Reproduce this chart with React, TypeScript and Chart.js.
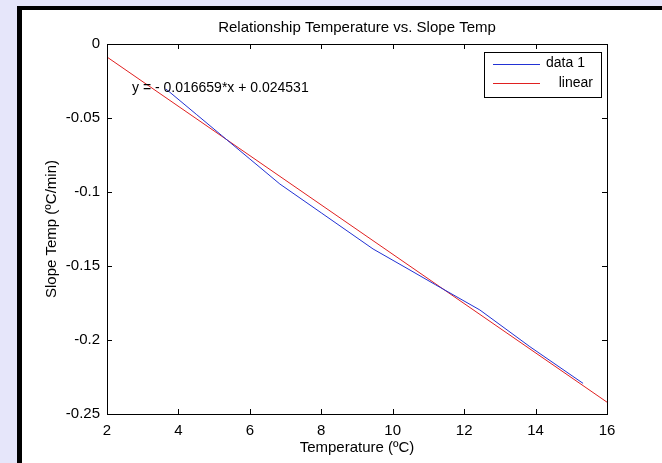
import React, { useEffect, useRef } from "react";
import { Chart, registerables } from "chart.js";

Chart.register(...registerables);

// ---- data ----
const dataTempX = [3.65, 4.5, 5.2, 6.0, 6.84, 8.0, 9.45, 10.43, 11.2, 12.44, 13.84, 15.33];
const dataSlopeY = [-0.0304, -0.0475, -0.0616, -0.0777, -0.0946, -0.1141, -0.1385, -0.152, -0.1627, -0.1797, -0.2045, -0.2293];
const fitTempX = [2, 16];
const fitSlopeY = [-0.0088, -0.242];
const seriesLabels = ["data 1", "   linear"];
const xTicksRange = [2, 16, 2];
const yTicksRange = [-0.25, 0, 0.05];
const titleText = "Relationship Temperature vs. Slope Temp";
const xTitle = "Temperature (ºC)";
const yTitle = "Slope Temp (ºC/min)";
const annotationText = "y = - 0.016659*x + 0.024531";
const annotationAt = [2.7, -0.0297];

const FONT = "'Liberation Sans', Arial, Helvetica, sans-serif";

const matlabPlugin = {
  id: "matlabLook",
  afterLayout(chart: any) {
    // center the title over the axes box, as MATLAB does
    const tb = chart.titleBlock;
    if (tb) {
      tb.left = chart.chartArea.left;
      tb.right = chart.chartArea.right;
    }
  },
  beforeDraw(chart: any) {
    const { ctx, width, height } = chart;
    ctx.save();
    ctx.fillStyle = "#e6e6fa";
    ctx.fillRect(0, 0, width, height);
    ctx.fillStyle = "#ffffff";
    ctx.fillRect(22, 10, width - 22, height - 10);
    ctx.fillStyle = "#000000";
    ctx.fillRect(17, 6, 5, height - 6);
    ctx.fillRect(17, 6, width - 17, 4);
    ctx.restore();
  },
  afterDatasetsDraw(chart: any) {
    const { ctx, chartArea: a, scales } = chart;
    const xs = scales.x;
    const ys = scales.y;
    ctx.save();
    // box
    ctx.strokeStyle = "#000";
    ctx.lineWidth = 1;
    ctx.strokeRect(Math.round(a.left) + 0.5, Math.round(a.top) + 0.5, Math.round(a.right - a.left), Math.round(a.bottom - a.top));
    // inward ticks
    const tl = 5;
    ctx.beginPath();
    xs.ticks.forEach((t: any) => {
      const px = Math.round(xs.getPixelForValue(t.value)) + 0.5;
      ctx.moveTo(px, a.bottom);
      ctx.lineTo(px, a.bottom - tl);
      ctx.moveTo(px, a.top);
      ctx.lineTo(px, a.top + tl);
    });
    ys.ticks.forEach((t: any) => {
      const py = Math.round(ys.getPixelForValue(t.value)) + 0.5;
      ctx.moveTo(a.left, py);
      ctx.lineTo(a.left + tl, py);
      ctx.moveTo(a.right, py);
      ctx.lineTo(a.right - tl, py);
    });
    ctx.stroke();

    // fit equation text
    ctx.fillStyle = "#000";
    ctx.font = `14px ${FONT}`;
    ctx.textAlign = "left";
    ctx.textBaseline = "middle";
    ctx.fillText(annotationText, xs.getPixelForValue(annotationAt[0]), ys.getPixelForValue(annotationAt[1]));

    // legend box
    const lw = 117;
    const lh = 45;
    const lx = Math.round(a.right) - 6 - lw;
    const ly = Math.round(a.top) + 8;
    ctx.fillStyle = "#fff";
    ctx.fillRect(lx, ly, lw, lh);
    ctx.strokeStyle = "#000";
    ctx.strokeRect(lx + 0.5, ly + 0.5, lw, lh);
    const ds = chart.data.datasets;
    ds.forEach((d: any, i: number) => {
      const cy = ly + 11.5 + i * 19.5;
      ctx.strokeStyle = d.borderColor;
      ctx.lineWidth = 1;
      ctx.beginPath();
      ctx.moveTo(lx + 9, Math.round(cy) + 0.5);
      ctx.lineTo(lx + 56, Math.round(cy) + 0.5);
      ctx.stroke();
      ctx.fillStyle = "#000";
      ctx.font = `14px ${FONT}`;
      ctx.textBaseline = "middle";
      if (i === 0) {
        ctx.textAlign = "left";
        ctx.fillText(d.label.trim(), lx + 62, cy);
      } else {
        ctx.textAlign = "right";
        ctx.fillText(d.label.trim(), lx + lw - 8, cy);
      }
    });
    ctx.restore();
  },
};

export default function App() {
  const ref = useRef<HTMLCanvasElement | null>(null);

  useEffect(() => {
    if (!ref.current) return;
    const chart = new Chart(ref.current, {
      type: "scatter",
      data: {
        datasets: [
          {
            label: seriesLabels[0],
            data: dataTempX.map((x, i) => ({ x, y: dataSlopeY[i] })),
            showLine: true,
            borderColor: "#2232d4",
            backgroundColor: "#2232d4",
            borderWidth: 1,
            pointRadius: 0,
            tension: 0,
          },
          {
            label: seriesLabels[1],
            data: fitTempX.map((x, i) => ({ x, y: fitSlopeY[i] })),
            showLine: true,
            borderColor: "#e02020",
            backgroundColor: "#e02020",
            borderWidth: 1,
            pointRadius: 0,
            tension: 0,
          },
        ],
      },
      options: {
        animation: false,
        responsive: false,
        devicePixelRatio: 1,
        layout: { padding: { left: 22, top: 10, right: 55, bottom: 0 } },
        plugins: {
          legend: { display: false },
          tooltip: { enabled: false },
          title: {
            display: true,
            text: titleText,
            color: "#000",
            font: { family: FONT, size: 15, weight: "normal" },
            padding: { top: 9, bottom: 7 },
          },
        },
        scales: {
          x: {
            type: "linear",
            min: xTicksRange[0],
            max: xTicksRange[1],
            grid: { display: false, drawTicks: false },
            border: { display: false },
            ticks: {
              stepSize: xTicksRange[2],
              color: "#000",
              padding: 8,
              maxRotation: 0,
              font: { family: FONT, size: 15 },
            },
            title: {
              display: true,
              text: xTitle,
              color: "#000",
              font: { family: FONT, size: 15 },
              padding: { top: 0, bottom: 6 },
            },
            afterFit: (s: any) => {
              s.height = 49;
            },
          },
          y: {
            type: "linear",
            min: yTicksRange[0],
            max: yTicksRange[1],
            grid: { display: false, drawTicks: false },
            border: { display: false },
            ticks: {
              stepSize: yTicksRange[2],
              color: "#000",
              padding: 7,
              font: { family: FONT, size: 15 },
              callback: (v: any) => String(Number(Number(v).toFixed(2))),
            },
            title: {
              display: true,
              text: yTitle,
              color: "#000",
              font: { family: FONT, size: 15 },
              padding: { top: 21, bottom: 0 },
            },
            afterFit: (s: any) => {
              s.width = 85;
            },
          },
        },
      },
      plugins: [matlabPlugin],
    });
    return () => chart.destroy();
  }, []);

  return (
    <div style={{ position: "fixed", left: 0, top: 0, width: 662, height: 463 }}>
      <canvas ref={ref} width={662} height={463} style={{ display: "block", width: 662, height: 463 }} />
    </div>
  );
}
